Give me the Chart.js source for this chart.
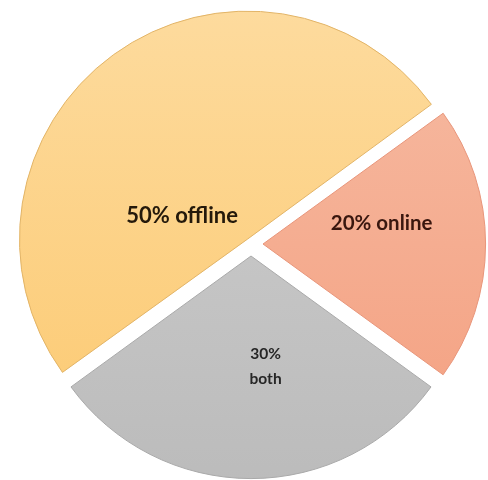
<!DOCTYPE html>
<html>
<head>
<meta charset="utf-8">
<script src="https://cdn.jsdelivr.net/npm/chart.js@4/dist/chart.umd.min.js"></script>
<style>
	html, body { margin: 0; padding: 0; background: #ffffff; }
	#wrap { width: 488px; height: 480px; }
</style>
</head>
<body>
<div id="wrap"><canvas id="chart_channels"></canvas></div>
<script>
// shares of customers by channel
var categories = ['offline', 'online', 'both'];
var shares = [50, 20, 30];

// fill gradients (top colour, bottom colour) and edge colours per slice
var fillTop = ['#fddb9e', '#f6bba3', '#cfcfcf'];
var fillBottom = ['#fcc970', '#f49f7f', '#bbbbbb'];
var edgeColors = ['#e2b467', '#e8957a', '#a9a9a9'];

// Chart.js moves an arc by offset / 4, doubled for a half circle,
// so these give every slice roughly the same 12px pull-out
var sliceOffsets = [24, 48, 48];

// where each label sits inside its slice: fraction of the sweep, fraction of the radius
var labelSweep = [0.29, 0.36, 0.43];
var labelRadius = [0.29, 0.54, 0.5];
var labelFonts = [
	{ size: 22, weight: 'bold', color: '#24190b' },
	{ size: 20.5, weight: 'bold', color: '#3a170f' },
	{ size: 15.5, weight: 'bold', color: '#262626' },
];
var labelSplit = [false, false, true];

function sliceFill(context) {
	var chart = context.chart;
	var area = chart.chartArea;
	if (!area) {
		return fillTop[context.dataIndex];
	}
	var g = chart.ctx.createLinearGradient(0, area.top, 0, area.bottom);
	g.addColorStop(0, fillTop[context.dataIndex]);
	g.addColorStop(1, fillBottom[context.dataIndex]);
	return g;
}

var sliceLabels = {
	id: 'sliceLabels',
	afterDatasetsDraw: function (chart) {
		var ctx = chart.ctx;
		var meta = chart.getDatasetMeta(0);
		meta.data.forEach(function (arc, i) {
			var p = arc.getProps(['x', 'y', 'startAngle', 'endAngle', 'outerRadius', 'circumference'], true);
			var mid = (p.startAngle + p.endAngle) / 2;
			// same shift the arc element applies when it draws itself
			var fix = 1 - Math.sin(Math.min(Math.PI, p.circumference || 0));
			var shift = sliceOffsets[i] / 4 * (1 + fix);
			var a = p.startAngle + (p.endAngle - p.startAngle) * labelSweep[i];
			var r = p.outerRadius * labelRadius[i];
			var x = p.x + Math.cos(mid) * shift + Math.cos(a) * r;
			var y = p.y + Math.sin(mid) * shift + Math.sin(a) * r;
			var f = labelFonts[i];
			var text = shares[i] + '% ' + categories[i];
			var lines = labelSplit[i] ? text.split(' ') : [text];
			var lineHeight = f.size * 1.6;
			ctx.save();
			ctx.font = f.weight + ' ' + f.size + 'px Lato, "Open Sans", sans-serif';
			ctx.fillStyle = f.color;
			ctx.textAlign = 'center';
			ctx.textBaseline = 'middle';
			lines.forEach(function (line, k) {
				ctx.fillText(line, x, y + (k - (lines.length - 1) / 2) * lineHeight);
			});
			ctx.restore();
		});
	}
};

var chart_channels = new Chart(
	document.getElementById('chart_channels'),
	{
		type: 'pie',
		data: {
			labels: categories,
			datasets: [
				{
					data: shares,
					backgroundColor: sliceFill,
					borderColor: edgeColors,
					borderWidth: 1,
					offset: sliceOffsets,
					hoverOffset: 0,
					radius: 222,
				}
			]
		},
		options: {
			responsive: true,
			maintainAspectRatio: false,
			animation: false,
			rotation: 234,
			layout: {
				padding: { left: 14, right: 0, top: 8, bottom: 0 }
			},
			plugins: {
				legend: { display: false },
				tooltip: { enabled: false },
			},
		},
		plugins: [sliceLabels]
	}
);
</script>
</body>
</html>
